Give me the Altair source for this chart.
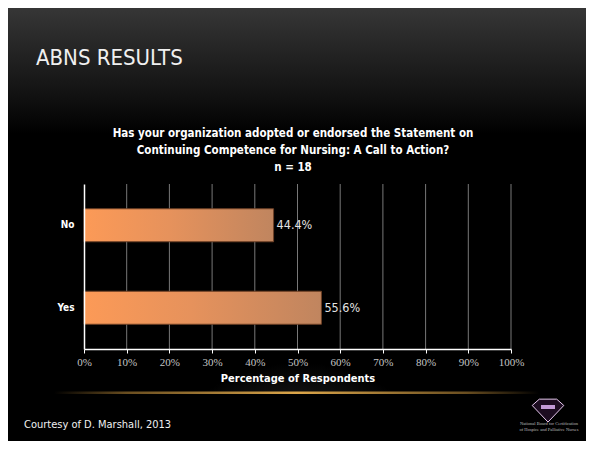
import altair as alt
import pandas as pd

# ---- data ----
categories = ["No", "Yes"]
percentages = [44.4, 55.6]
axis_ticks = [0, 10, 20, 30, 40, 50, 60, 70, 80, 90, 100]
grid_ticks = [10, 20, 30, 40, 50, 60, 70, 80, 90, 100]
question_lines = [
    "Has your organization adopted or endorsed the Statement on",
    "Continuing Competence for Nursing: A Call to Action?",
    "n = 18",
]
x_title = "Percentage of Respondents"
slide_title = "ABNS RESULTS"
footer = "Courtesy of D. Marshall, 2013"
logo_lines = ["National Board for Certification", "of Hospice and Palliative Nurses"]

NARROW = "DejaVu Sans Condensed"
SERIF = "Liberation Serif"

W, H = 427, 165
PAD = {"left": 76, "top": 176, "right": 75, "bottom": 92}

bars_df = pd.DataFrame({"answer": categories, "pct": percentages})
grid_df = pd.DataFrame({"tick": grid_ticks})
one = pd.DataFrame({"k": [0]})

x_scale = alt.Scale(domain=[0, 100], nice=False, zero=True)
y_scale = alt.Scale(domain=categories, paddingInner=0.6, paddingOuter=0.3)

# ---- decorative slide background ----
top_grad = alt.Chart(one).mark_rect(
    fill=alt.LinearGradient(
        gradient="linear",
        stops=[
            alt.GradientStop(color="#363636", offset=0),
            alt.GradientStop(color="#141414", offset=0.65),
            alt.GradientStop(color="#000000", offset=1),
        ],
        x1=0, x2=0, y1=0, y2=1,
    )
).encode(x=alt.value(-76), x2=alt.value(502), y=alt.value(-176), y2=alt.value(-50))

glow = alt.Chart(one).mark_rect(
    fill=alt.RadialGradient(
        gradient="radial",
        stops=[
            alt.GradientStop(color="#5a5a5a", offset=0),
            alt.GradientStop(color="#2a2a2a", offset=0.5),
            alt.GradientStop(color="#000000", offset=1),
        ],
        x1=0.5, y1=1, r1=0, x2=0.5, y2=1, r2=0.5,
    )
).encode(x=alt.value(50), x2=alt.value(380), y=alt.value(148), y2=alt.value(209))

gold = alt.Chart(one).mark_rect(
    fill=alt.LinearGradient(
        gradient="linear",
        stops=[
            alt.GradientStop(color="#000000", offset=0),
            alt.GradientStop(color="#6a4e20", offset=0.15),
            alt.GradientStop(color="#dca64a", offset=0.5),
            alt.GradientStop(color="#6a4e20", offset=0.85),
            alt.GradientStop(color="#000000", offset=1),
        ],
        x1=0, x2=1, y1=0, y2=0,
    )
).encode(x=alt.value(-30), x2=alt.value(455), y=alt.value(207.5), y2=alt.value(210))

# ---- gridlines ----
grid = alt.Chart(grid_df).mark_rule(color="#787878", strokeWidth=1).encode(
    x=alt.X("tick:Q", scale=x_scale)
)

# ---- bars ----
x_axis = alt.Axis(
    values=axis_ticks, labelExpr="datum.value + '%'", grid=False, labelFlush=False,
    domainColor="white", domainWidth=1.5, tickColor="white", tickSize=4,
    labelFont=SERIF, labelFontSize=11, labelColor="#c4c4c4", labelPadding=3,
    title=x_title, titleFont=NARROW, titleFontSize=11, titleFontWeight="bold",
    titleColor="white", titlePadding=5, zindex=1,
)
y_axis = alt.Axis(
    title=None, domainColor="white", domainWidth=1.5, ticks=False, grid=False,
    labelFont=NARROW, labelFontSize=10, labelFontWeight="bold", labelColor="white",
    labelPadding=10, zindex=1,
)

bars = alt.Chart(bars_df).mark_bar(
    fill=alt.LinearGradient(
        gradient="linear",
        stops=[
            alt.GradientStop(color="#FC9A57", offset=0),
            alt.GradientStop(color="#E6925C", offset=0.45),
            alt.GradientStop(color="#C0855F", offset=1),
        ],
        x1=0, x2=1, y1=0, y2=0,
    ),
    stroke="#6e4026", strokeWidth=1,
).encode(
    x=alt.X("pct:Q", scale=x_scale, axis=x_axis),
    y=alt.Y("answer:N", scale=y_scale, sort=categories, axis=y_axis),
)

labels = alt.Chart(bars_df).transform_calculate(
    label="format(datum.pct, '.1f') + '%'"
).mark_text(
    align="left", baseline="middle", dx=3, font=NARROW, fontSize=12.5, color="#e4e4e4"
).encode(
    x=alt.X("pct:Q", scale=x_scale),
    y=alt.Y("answer:N", scale=y_scale, sort=categories),
    text="label:N",
)

# ---- slide texts ----
question_txt = alt.Chart(one).mark_text(
    text=question_lines, align="center", baseline="middle", lineHeight=16.7,
    font=NARROW, fontSize=11.5, fontWeight="bold", color="white",
).encode(x=alt.value(209), y=alt.value(-49.7))

title_txt = alt.Chart(one).mark_text(
    text=slide_title, align="left", baseline="alphabetic",
    font=NARROW, fontSize=22, color="#f0f0f0",
).encode(x=alt.value(-48), y=alt.value(-119))

footer_txt = alt.Chart(one).mark_text(
    text=footer, align="left", baseline="alphabetic",
    font=NARROW, fontSize=11, color="#f0f0f0",
).encode(x=alt.value(-60), y=alt.value(244))

logo = alt.Chart(one).mark_point(
    shape="M -1 -0.35 L -0.55 -0.75 L 0.55 -0.75 L 1 -0.35 L 0 0.7 Z",
    filled=True, fill="#1c0c20", stroke="#e6c8ee", strokeWidth=1, size=1000, opacity=1,
).encode(x=alt.value(464), y=alt.value(227))

logo_band = alt.Chart(one).mark_rect(color="#c39ad6").encode(
    x=alt.value(457), x2=alt.value(471), y=alt.value(221), y2=alt.value(225)
)

logo_txt1 = alt.Chart(one).mark_text(
    text=logo_lines[0], align="center", baseline="middle", font=SERIF, fontSize=4.5, color="#bdbdbd"
).encode(x=alt.value(465), y=alt.value(240))
logo_txt2 = alt.Chart(one).mark_text(
    text=logo_lines[1], align="center", baseline="middle", font=SERIF, fontSize=4.5, color="#bdbdbd"
).encode(x=alt.value(465), y=alt.value(246))

chart = alt.layer(
    top_grad, glow, gold, grid, bars, labels, question_txt, title_txt, footer_txt,
    logo, logo_band, logo_txt1, logo_txt2,
).properties(
    width=W, height=H,
    padding=PAD,
    autosize=alt.AutoSizeParams(type="none"),
    background="black",
).configure_view(strokeWidth=0)

chart.save("out.html", embed_options={"renderer": "svg", "actions": False})
